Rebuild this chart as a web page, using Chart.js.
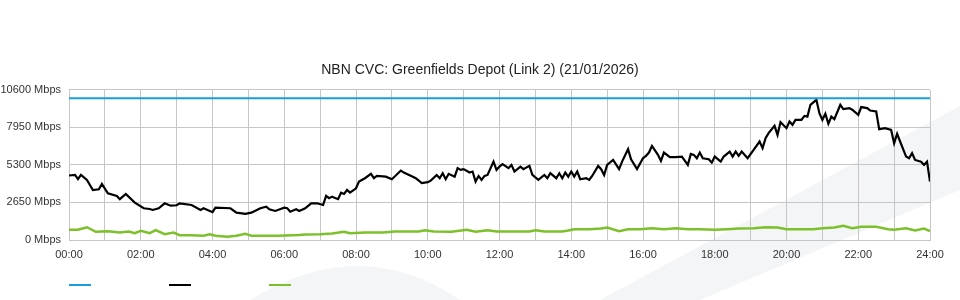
<!DOCTYPE html>
<html>
<head>
<meta charset="utf-8">
<script src="https://cdn.jsdelivr.net/npm/chart.js@4.4.1/dist/chart.umd.min.js"></script>
<style>
  html, body { margin: 0; padding: 0; background: #fff; }
  #wrap { width: 960px; height: 300px; }
</style>
</head>
<body>
<div id="wrap"><canvas id="cvcChart" width="960" height="300"></canvas></div>
<script>
// ----------- Data (minutes since midnight / Mbps) -----------
const chartTitle = "NBN CVC: Greenfields Depot (Link 2) (21/01/2026)";

const capacityMinutes = [0, 1440];
const capacityMbps = [10000, 10000];

const usageMinutes = [0,10,15,20,30,40,50,55,65,80,85,95,110,125,135,140,150,160,170,180,185,205,220,225,240,245,270,280,295,305,320,330,335,345,360,365,370,380,385,395,405,415,425,430,435,440,450,455,460,465,470,480,485,495,505,510,515,530,540,555,560,575,580,590,600,605,615,620,625,630,635,645,650,655,660,670,675,680,685,690,695,700,710,715,720,725,735,740,745,755,760,770,775,785,795,800,805,815,820,825,830,835,840,845,850,855,865,870,875,885,890,895,900,910,920,925,935,940,950,960,965,970,975,985,990,995,1005,1015,1025,1035,1040,1045,1050,1055,1060,1070,1075,1080,1090,1095,1105,1110,1115,1120,1125,1135,1145,1155,1160,1165,1170,1180,1185,1190,1200,1205,1210,1215,1225,1230,1235,1240,1250,1255,1260,1265,1270,1275,1280,1290,1295,1305,1310,1320,1325,1335,1340,1350,1355,1365,1375,1380,1385,1390,1400,1405,1410,1415,1425,1430,1435,1440];
const usageMbps = [4550,4590,4290,4590,4240,3530,3580,3960,3300,3110,2880,3250,2640,2240,2190,2120,2240,2590,2420,2450,2590,2470,2120,2240,1960,2280,2240,1930,1840,1930,2240,2350,2170,2050,2280,2240,2000,2170,2050,2240,2590,2590,2470,3110,2950,3060,2880,3340,3250,3530,3340,3650,4120,4360,4670,4360,4520,4470,4290,4900,4760,4470,4360,4010,4080,4190,4590,4360,4710,4290,4670,4470,5070,4950,5000,4760,4830,4120,4520,4240,4520,4590,5530,4950,5180,5350,5070,5300,4830,5180,5000,5230,4590,4240,4590,4360,4710,4360,4710,4360,4760,4470,4830,4470,4830,4290,4360,4240,4520,5230,5000,4590,5300,5650,5000,5530,6410,5700,5000,5770,5940,6170,6640,6010,5580,6170,5850,5850,5890,5300,6080,6010,5770,6170,5770,5700,5460,5890,5530,5890,6240,5890,6240,5940,6240,5770,6360,6950,6480,7190,7540,8060,7420,8320,7890,8360,8130,8480,8480,8760,8710,9540,9890,8950,8480,8910,8200,8710,8530,9540,9240,9310,9190,8830,9380,9310,9140,9070,7820,7890,7770,6830,7490,6950,5890,5770,6130,5650,5530,5300,5530,4120];

const baseMinutes = [0,15,30,45,65,85,100,110,120,135,145,160,175,185,205,225,235,245,265,280,295,305,350,385,395,420,440,460,470,495,525,545,585,595,610,640,665,680,700,715,770,780,795,825,835,845,870,890,900,920,935,955,975,995,1015,1035,1055,1080,1100,1120,1145,1165,1185,1200,1225,1245,1260,1280,1295,1310,1325,1350,1370,1380,1400,1415,1430,1440];
const baseMbps = [720,720,900,580,620,530,600,480,650,480,690,410,530,340,340,300,410,300,230,300,440,300,300,360,390,410,460,580,480,530,530,600,600,690,600,580,720,580,680,600,600,690,600,600,670,760,760,810,880,620,760,760,830,760,830,760,760,720,760,810,830,900,880,760,760,760,830,880,1000,830,930,930,760,720,830,670,810,620];

const yMax = 10600;
const yStep = 2650;
const dayMinutes = 1440;
const labelEveryMinutes = 120;

const toPoints = (xs, ys) => xs.map((x, i) => ({ x, y: ys[i] }));
const hhmm = m => String(Math.floor(m / 60)).padStart(2, "0") + ":00";

// ----------- Plugins -----------
// faint background swoosh + white canvas
const backdrop = {
  id: "backdrop",
  beforeDraw(chart) {
    const ctx = chart.ctx;
    ctx.save();
    ctx.fillStyle = "#fff";
    ctx.fillRect(0, 0, chart.width, chart.height);
    ctx.fillStyle = "#f4f5f7";
    ctx.beginPath();
    ctx.moveTo(600, 300);
    ctx.lineTo(960, 106);
    ctx.lineTo(960, 190);
    ctx.lineTo(700, 300);
    ctx.closePath();
    ctx.fill();
    ctx.beginPath();
    ctx.moveTo(250, 300);
    ctx.quadraticCurveTo(360, 232, 460, 300);
    ctx.closePath();
    ctx.fill();
    ctx.restore();
  }
};

// legend: just short coloured lines, no text
const lineLegend = {
  id: "lineLegend",
  afterDraw(chart) {
    const ctx = chart.ctx;
    const y = chart.height - 15;
    ctx.save();
    ctx.lineWidth = 2;
    chart.data.datasets.forEach((ds, i) => {
      const x = chart.chartArea.left + i * 100;
      ctx.strokeStyle = ds.borderColor;
      ctx.beginPath();
      ctx.moveTo(x, y);
      ctx.lineTo(x + 22, y);
      ctx.stroke();
    });
    ctx.restore();
  }
};

// ----------- Chart -----------
const gridColor = "#c6c6c6";
const tickFont = { family: "'Liberation Sans', Arial, sans-serif", size: 11 };

new Chart(document.getElementById("cvcChart").getContext("2d"), {
  type: "line",
  data: {
    datasets: [
      { label: "Capacity", data: toPoints(capacityMinutes, capacityMbps), borderColor: "#1a9fde", borderWidth: 2 },
      { label: "Usage", data: toPoints(usageMinutes, usageMbps), borderColor: "#000000", borderWidth: 2.2 },
      { label: "Baseline", data: toPoints(baseMinutes, baseMbps), borderColor: "#7cc12b", borderWidth: 2.5 }
    ]
  },
  options: {
    responsive: false,
    animation: false,
    devicePixelRatio: 1,
    elements: { point: { radius: 0 }, line: { tension: 0 } },
    layout: { padding: { top: 62, right: 0, left: 0, bottom: 0 } },
    plugins: {
      legend: { display: false },
      tooltip: { enabled: false },
      title: {
        display: true,
        text: chartTitle,
        color: "#222",
        font: { family: "'Liberation Sans', Arial, sans-serif", size: 14, weight: "normal" },
        padding: { top: 0, bottom: 11 }
      }
    },
    scales: {
      x: {
        type: "linear",
        min: 0,
        max: dayMinutes,
        grid: { color: gridColor, drawTicks: false },
        border: { color: gridColor },
        ticks: {
          stepSize: 60,
          autoSkip: false,
          maxRotation: 0,
          padding: 8,
          color: "#333",
          font: tickFont,
          callback: v => (v % labelEveryMinutes === 0 ? hhmm(v) : "")
        },
        afterFit: s => { s.height = 60; }
      },
      y: {
        min: 0,
        max: yMax,
        grid: { color: gridColor, drawTicks: false },
        border: { color: gridColor },
        ticks: {
          stepSize: yStep,
          padding: 8,
          color: "#333",
          font: tickFont,
          callback: v => v + " Mbps"
        },
        afterFit: s => { s.width = 69; }
      },
      // empty right gutter so the title stays centred on the canvas
      gutter: {
        position: "right",
        min: 0,
        max: yMax,
        grid: { display: false, drawTicks: false },
        border: { display: false },
        ticks: { display: false },
        afterFit: s => { s.width = 30; }
      }
    }
  },
  plugins: [backdrop, lineLegend]
});
</script>
</body>
</html>
